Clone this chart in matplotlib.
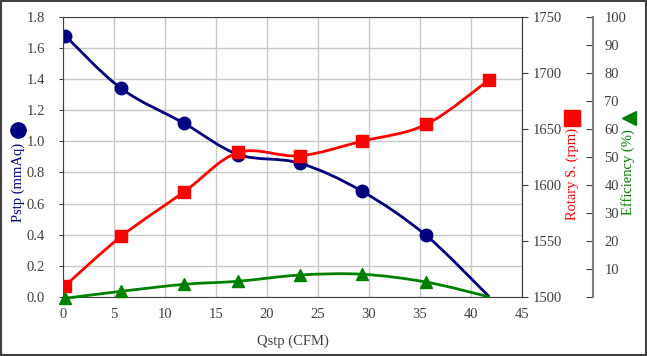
import matplotlib.pyplot as plt
import numpy as np
from matplotlib.path import Path
from matplotlib.patches import PathPatch, Rectangle
from matplotlib.lines import Line2D

plt.rcParams['font.family'] = ['Liberation Serif', 'DejaVu Sans']
plt.rcParams['font.size'] = 10.5

# data
q = [0.2, 5.7, 11.9, 17.2, 23.2, 29.3, 35.6, 41.8]
pstp = [1.68, 1.34, 1.115, 0.915, 0.86, 0.68, 0.395, 0.0]
rpm = [1510, 1554, 1594, 1629, 1626, 1639, 1654, 1694]
eff = [-0.5, 2.0, 4.5, 5.6, 7.8, 8.1, 5.3, 0.0]

navy = '#000080'
red = '#ff0000'
green = '#008000'
txt = '#404040'


def smooth_line(ax, x, y, color, lw=2):
    # Excel-like smoothed line: Catmull-Rom segments as cubic beziers
    pts = np.column_stack([x, y]).astype(float)
    verts = [pts[0]]
    codes = [Path.MOVETO]
    n = len(pts)
    for i in range(n - 1):
        p0 = pts[i - 1] if i > 0 else pts[i]
        p1 = pts[i]
        p2 = pts[i + 1]
        p3 = pts[i + 2] if i + 2 < n else pts[i + 1]
        c1 = p1 + (p2 - p0) / 6.0
        c2 = p2 - (p3 - p1) / 6.0
        verts += [c1, c2, p2]
        codes += [Path.CURVE4] * 3
    ax.add_patch(PathPatch(Path(verts, codes), fill=False, edgecolor=color, lw=lw, clip_on=False))


fig = plt.figure(figsize=(6.47, 3.56), dpi=100)
ax = fig.add_axes([0.0974, 0.166, 0.7094, 0.7865])
ax2 = ax.twinx()
ax3 = ax.twinx()

ax.set_xlim(0, 45)
ax.set_ylim(0, 1.8)
ax.set_xticks(np.arange(0, 46, 5))
ax.set_yticks(np.arange(0, 1.81, 0.2))
ax.set_yticklabels(['%.1f' % v for v in np.arange(0, 1.81, 0.2)])
ax.grid(True, color='#c8c8c8', lw=1)
ax.set_axisbelow(True)
for s in ax.spines.values():
    s.set_color('#404040')
ax.tick_params(axis='x', length=0, pad=8, colors=txt)
ax.tick_params(axis='y', length=3, pad=10, colors=txt)

ax2.set_ylim(1500, 1750)
ax2.set_yticks(np.arange(1500, 1751, 50))
ax2.tick_params(axis='y', length=4, colors=txt)

ax3.set_ylim(0, 100)
ax3.set_yticks(np.arange(0, 101, 10))
ax3.set_yticklabels([''] + [str(v) for v in range(10, 101, 10)])
ax3.spines['right'].set_position(('axes', 1.155))
ax3.spines['right'].set_color('#808080')
ax3.spines['right'].set_linewidth(1.5)
ax3.tick_params(axis='y', direction='in', length=5, colors=txt, pad=8)
for a in (ax2, ax3):
    for side in ('left', 'top', 'bottom'):
        a.spines[side].set_visible(False)
ax2.spines['right'].set_color('#404040')

smooth_line(ax, q, pstp, navy)
ax.plot(q[:-1], pstp[:-1], 'o', color=navy, ms=9)
smooth_line(ax2, q, rpm, red)
ax2.plot(q, rpm, 's', color=red, ms=9)
smooth_line(ax3, q, eff, green)
ax3.plot(q[:-1], eff[:-1], '^', color=green, ms=8, clip_on=False)

ax.set_xlabel('Qstp (CFM)', color=txt, labelpad=10)

# axis titles with their marker symbols
fig.text(0.028, 1 - 182 / 356, 'Pstp (mmAq)', color=navy, rotation=90, ha='center', va='center')
fig.add_artist(Line2D([18 / 647], [1 - 130 / 356], marker='o', ms=11, color=navy, transform=fig.transFigure))
fig.text(572 / 647, 1 - 174 / 356, 'Rotary S. (rpm)', color=red, rotation=90, ha='center', va='center')
fig.add_artist(Line2D([572 / 647], [1 - 118 / 356], marker='s', ms=11, color=red, transform=fig.transFigure))
fig.text(628 / 647, 1 - 172 / 356, 'Efficiency (%)', color=green, rotation=90, ha='center', va='center')
fig.add_artist(Line2D([629 / 647], [1 - 118 / 356], marker='<', ms=10, color=green, transform=fig.transFigure))

fig.patches.append(Rectangle((0.002, 0.003), 0.996, 0.994, transform=fig.transFigure,
                             fill=False, edgecolor='#404040', lw=1.5))

plt.savefig('out.png', dpi=100)
